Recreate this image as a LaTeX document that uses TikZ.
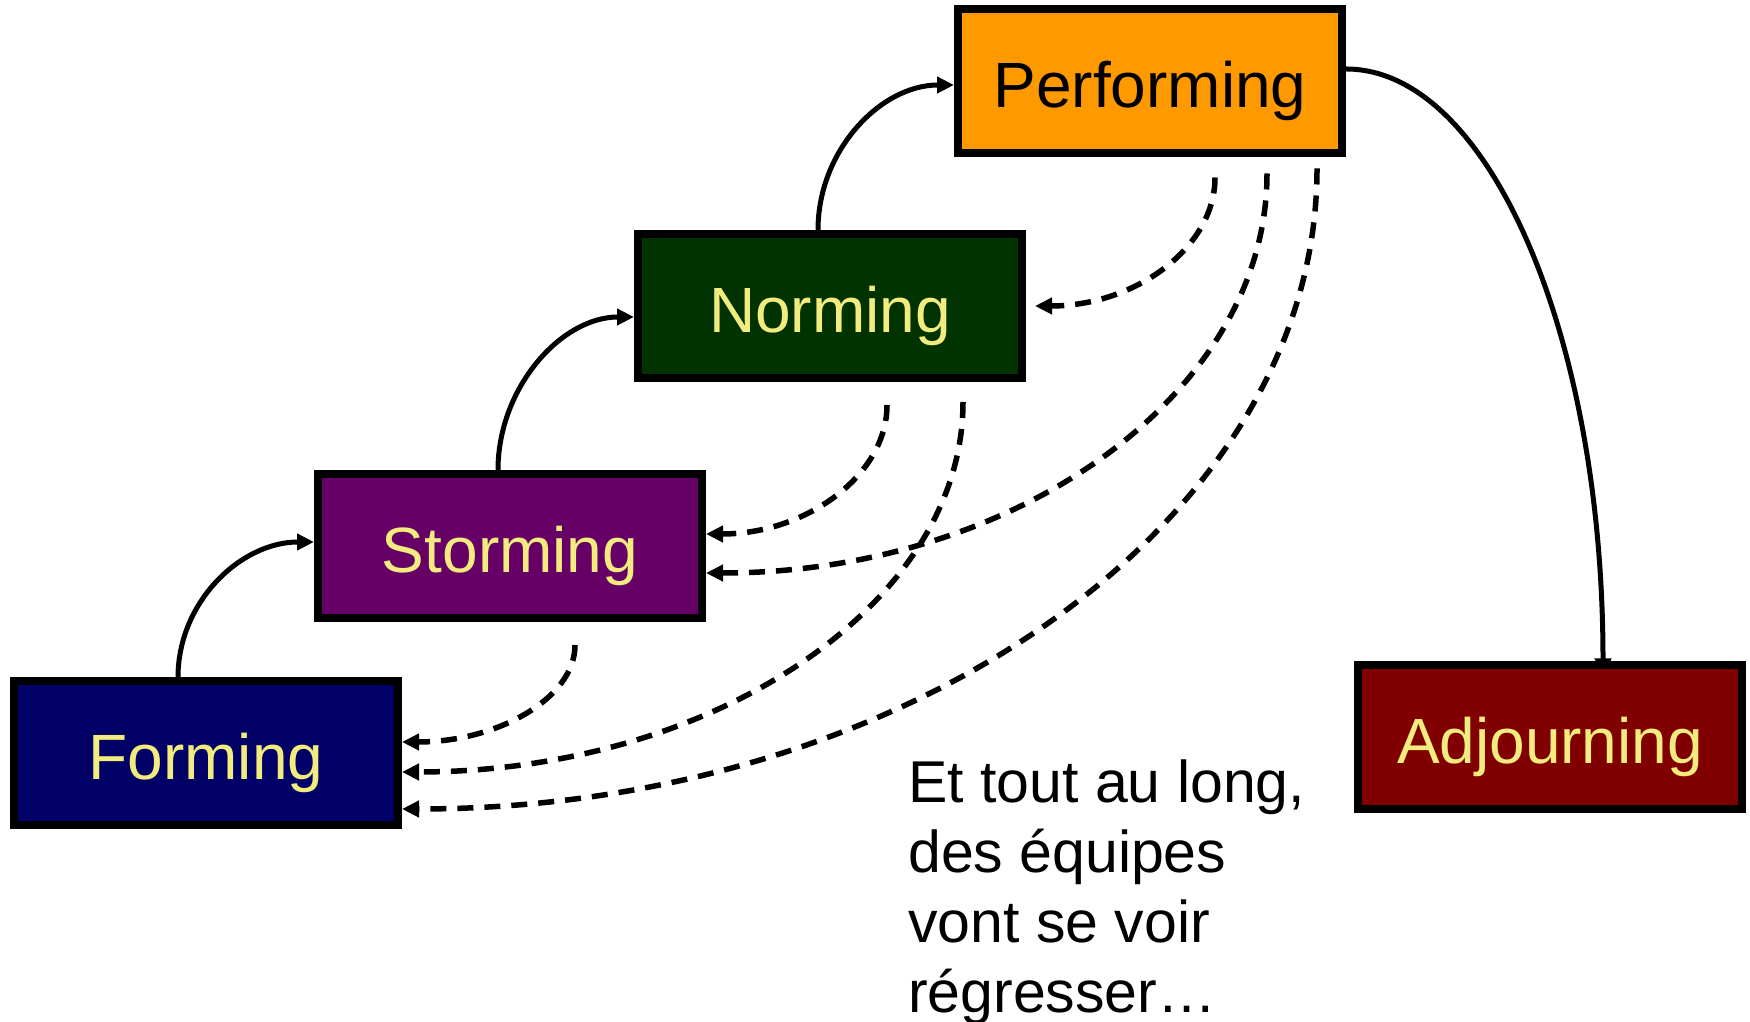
\documentclass[tikz,border=0pt]{standalone}
\usepackage{fontspec}
\setmainfont{Liberation Sans}
\usetikzlibrary{arrows.meta,backgrounds}
\definecolor{formblue}{HTML}{000066}
\definecolor{stormpurple}{HTML}{660066}
\definecolor{normgreen}{HTML}{003300}
\definecolor{perforange}{HTML}{FF9900}
\definecolor{adjred}{HTML}{800000}
\definecolor{paleyellow}{HTML}{F2EC7E}

\begin{document}
\begin{tikzpicture}[x=1pt,y=1pt,
  >={Triangle[length=17pt,width=16pt]},
  stage/.style={draw=black,line width=8pt,minimum width=384pt,minimum height=144pt,
    inner sep=0pt,text height=64pt,text depth=11pt,text=paleyellow,font=\fontsize{64}{77}\selectfont},
  climb/.style={line width=5pt,->},
  fallback/.style={line width=5.5pt,dash pattern=on 16pt off 11pt,->}]
  \useasboundingbox (0,0) rectangle (1750,1022);
  \node[stage,fill=formblue]    (form)  at ( 206.0, 268.5) {Forming};
  \node[stage,fill=stormpurple] (storm) at ( 510.0, 476.0) {Storming};
  \node[stage,fill=normgreen]   (norm)  at ( 830.0, 716.0) {Norming};
  \node[stage,fill=perforange,text=black] (perf) at (1150.0, 940.5) {Performing};
  \node[stage,fill=adjred]      (adj)   at (1550.0, 284.5) {Adjourning};
  \node[anchor=north west,align=left,inner sep=0pt,font=\fontsize{59}{70}\selectfont]
    (note) at (908,262) {Et tout au long,\\des équipes\\vont se voir\\régresser…};
  \begin{scope}[on background layer]
    \draw[climb] ([xshift=-28pt]form.north) .. controls +(0,76) and +(-73,0) .. ([yshift=4pt]storm.west);
    \draw[climb] ([xshift=-12pt]storm.north) .. controls +(0,82) and +(-73,0) .. ([yshift=-11pt]norm.west);
    \draw[climb] ([xshift=-12pt]norm.north) .. controls +(0,80) and +(-73,0) .. ([yshift=-3.5pt]perf.west);
    \draw[climb,shorten >=-14pt] ([yshift=12.5pt]perf.east) .. controls +(142,0) and +(0,327) .. ([xshift=53pt]adj.north);
    \draw[fallback] ([xshift=65pt,yshift=-20pt]perf.south) .. controls +(0,-71) and +(99,0) .. ([xshift=9pt]norm.east);
    \draw[fallback] ([xshift=117pt,yshift=-16pt]perf.south) .. controls +(0,-221) and +(309,0) .. ([yshift=-27pt]storm.east);
    \draw[fallback] ([xshift=167pt,yshift=-11pt]perf.south) .. controls +(0,-354) and +(504,0) .. ([yshift=-55.5pt]form.east);
    \draw[fallback] ([xshift=57pt,yshift=-23pt]norm.south) .. controls +(0,-71) and +(99,0) .. ([yshift=12pt]storm.east);
    \draw[fallback] ([xshift=133pt,yshift=-20pt]norm.south) .. controls +(0,-204) and +(309,0) .. ([yshift=-18.5pt]form.east);
    \draw[fallback] ([xshift=65pt,yshift=-23pt]storm.south) .. controls +(0,-54) and +(94,0) .. ([yshift=11.5pt]form.east);
  \end{scope}
\end{tikzpicture}
\end{document}
